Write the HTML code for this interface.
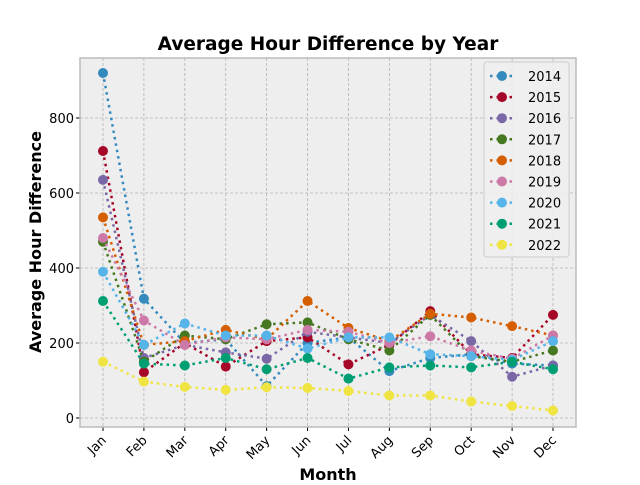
<!DOCTYPE html>
<html><head><meta charset="utf-8"><style>
body{margin:0;background:#fff;font-family:"Liberation Sans","DejaVu Sans",sans-serif}
svg text{font-family:"DejaVu Sans","Liberation Sans",sans-serif}
</style></head><body>
<svg id="chart" width="640" height="480" xmlns="http://www.w3.org/2000/svg"></svg>
<script>
const months=["Jan","Feb","Mar","Apr","May","Jun","Jul","Aug","Sep","Oct","Nov","Dec"];
const years=["2014","2015","2016","2017","2018","2019","2020","2021","2022"];
const colors=["#348ABD","#A60628","#7A68A6","#467821","#D55E00","#CC79A7","#56B4E9","#009E73","#F0E442"];
const s2014=[920,318,200,210,85,200,215,125,160,170,145,140];
const s2015=[712,122,200,137,205,215,143,195,285,170,160,275];
const s2016=[635,160,195,175,158,230,215,200,275,205,110,140];
const s2017=[470,150,220,210,250,255,210,180,275,165,150,180];
const s2018=[535,195,205,235,210,312,240,205,278,268,245,220];
const s2019=[480,260,195,215,210,235,230,200,218,180,158,220];
const s2020=[390,195,252,220,220,185,215,215,170,165,155,205];
const s2021=[312,145,140,160,130,160,105,135,140,135,150,130];
const s2022=[150,97,83,75,82,80,72,60,60,44,32,20];
const series=[s2014,s2015,s2016,s2017,s2018,s2019,s2020,s2021,s2022];
const yTicks=[0,200,400,600,800];

const svg=document.getElementById('chart');
const NS="http://www.w3.org/2000/svg";
const L=80,R=576,T=58,B=427;
const xs=i=>103+i*(553-103)/11;
const ys=v=>418-v*0.375;
function mk(tag,attrs,parent){const e=document.createElementNS(NS,tag);for(const k in attrs)e.setAttribute(k,attrs[k]);(parent||svg).appendChild(e);return e;}

const bg=mk('rect',{x:L,y:T,width:R-L,height:B-T,fill:'#eeeeee'});



yTicks.forEach(v=>{
  const g=mk('line',{x1:L,x2:R,y1:ys(v),y2:ys(v),stroke:'#b2b2b2','stroke-dasharray':'3,2','stroke-width':0.8});
  
  
  mk('line',{x1:L-4,x2:L,y1:ys(v),y2:ys(v),stroke:'#000','stroke-width':1});
  const t=mk('text',{x:L-6,y:ys(v)+5,'text-anchor':'end','font-size':13,fill:'#000'});
  t.textContent=v;
  
  
});
months.forEach((m,i)=>{
  const g=mk('line',{x1:xs(i),x2:xs(i),y1:T,y2:B,stroke:'#b2b2b2','stroke-dasharray':'3,2','stroke-width':0.8});
  
  
  mk('line',{x1:xs(i),x2:xs(i),y1:B,y2:B+4,stroke:'#000','stroke-width':1});
  const t=mk('text',{x:xs(i)+4,y:B+14,'text-anchor':'end','font-size':13,fill:'#000',transform:`rotate(-45 ${xs(i)+4} ${B+14})`});
  t.textContent=m;
  
  
});
const fr=mk('rect',{x:L,y:T,width:R-L,height:B-T,fill:'none',stroke:'#bcbcbc','stroke-width':1.5});



series.forEach((s,k)=>{
  const g=mk('g',{});
  
  
  const p=mk('polyline',{points:s.map((v,i)=>xs(i)+','+ys(v)).join(' '),fill:'none',stroke:colors[k],'stroke-width':2.5,'stroke-dasharray':'2.5,4'},g);
  
  
  s.forEach((v,i)=>{
    const c=mk('circle',{cx:xs(i),cy:ys(v),r:5,fill:colors[k]},g);
    
    
  });
});

const lg=mk('g',{});


mk('rect',{x:484,y:62,width:85,height:195,rx:3,fill:'#eeeeee','fill-opacity':0.85,stroke:'#cccccc'},lg);
years.forEach((y,k)=>{
  const yy=76+k*21.1;
  const e=mk('g',{},lg);
  
  
  mk('line',{x1:490,x2:514,y1:yy,y2:yy,stroke:colors[k],'stroke-width':2.5,'stroke-dasharray':'2.5,4'},e);
  mk('circle',{cx:502,cy:yy,r:5,fill:colors[k]},e);
  const t=mk('text',{x:528,y:yy+5,'font-size':13,fill:'#000'},e);
  t.textContent=y;
});

const title=mk('text',{x:328,y:50,'text-anchor':'middle','font-size':18.5,'font-weight':'bold'});
title.textContent='Average Hour Difference by Year';


const xl=mk('text',{x:328,y:480,'text-anchor':'middle','font-size':16,'font-weight':'bold'});
xl.textContent='Month';


const yl=mk('text',{x:0,y:0,'text-anchor':'middle','font-size':16,'font-weight':'bold',transform:'translate(41 242) rotate(-90)'});
yl.textContent='Average Hour Difference';


</script>
</body></html>
